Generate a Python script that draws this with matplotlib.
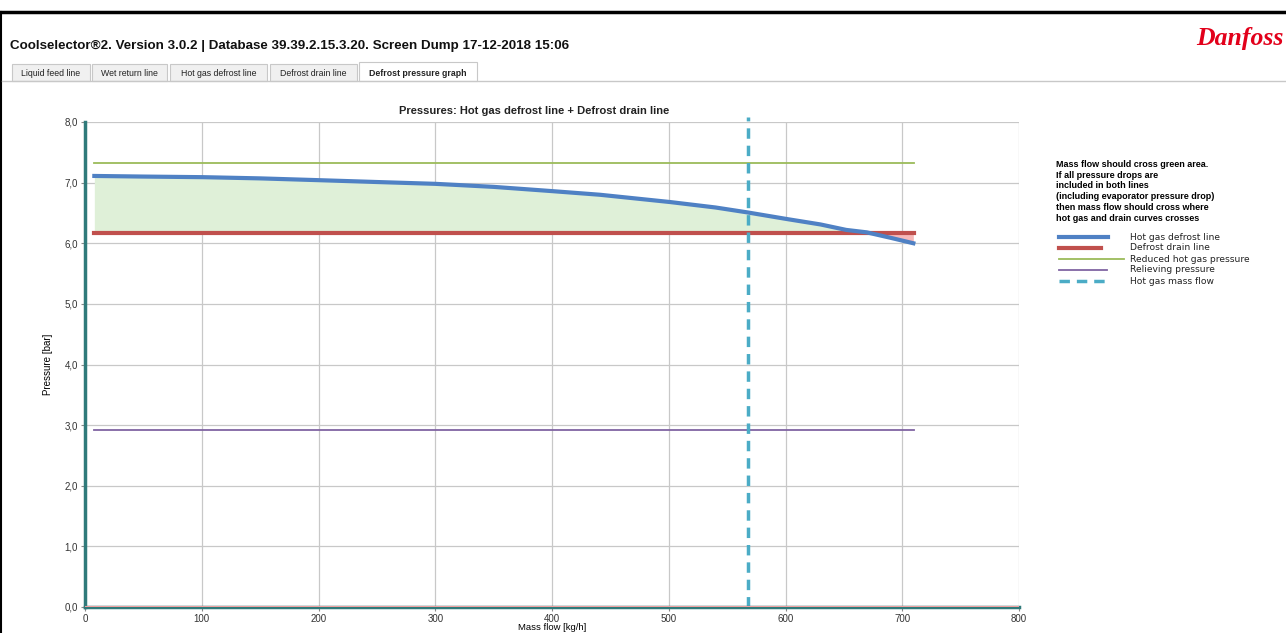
import matplotlib.pyplot as plt
import numpy as np
from matplotlib.patches import Rectangle
from matplotlib.lines import Line2D

plt.rcParams['font.family'] = ['Liberation Sans', 'DejaVu Sans']

# data
mass_flow = [8, 50, 101, 150, 201, 250, 300, 350, 400, 441, 501, 540, 567, 601, 630, 652, 669.5, 690, 709.5]
hot_gas = [7.11, 7.10, 7.09, 7.07, 7.04, 7.01, 6.98, 6.93, 6.86, 6.80, 6.68, 6.59, 6.51, 6.40, 6.31, 6.22, 6.18, 6.09, 6.00]
drain_pressure = 6.17
reduced_pressure = 7.33
relieving_pressure = 2.92
flow_range = [8, 710]
mass_flow_point = 568

legend_labels = ['Hot gas defrost line', 'Defrost drain line', 'Reduced hot gas pressure',
                 'Relieving pressure', 'Hot gas mass flow']
tabs = ['Liquid feed line', 'Wet return line', 'Hot gas defrost line', 'Defrost drain line',
        'Defrost pressure graph']
tab_edges = [(12, 90), (92, 167), (170, 267), (270, 357), (359, 477)]

c_blue = '#4f81c4'
c_red = '#c0504d'
c_green = '#9bbb59'
c_purple = '#8064a2'
c_teal = '#4bacc6'

W, H = 1286, 633
fig = plt.figure(figsize=(W / 100, H / 100), dpi=100)


def fx(px):
    return px / W


def fy(py):
    return 1 - py / H


# screenshot frame
fig.add_artist(Line2D([0, 1], [fy(12), fy(12)], color='black', lw=2.5))
fig.add_artist(Line2D([fx(1), fx(1)], [fy(12), 0], color='black', lw=1.5))
fig.text(fx(10), fy(46), 'Coolselector®2. Version 3.0.2 | Database 39.39.2.15.3.20. Screen Dump 17-12-2018 15:06',
         fontsize=9.6, fontweight='bold', va='center', ha='left', color='#111111')
fig.text(fx(1196), fy(38), 'Danfoss', fontsize=18.5, color='#e2001a', style='italic', fontweight='bold',
         family='Liberation Serif', va='center', ha='left')

# tabs
fig.add_artist(Line2D([fx(2), 1], [fy(81), fy(81)], color='#c8c8c8', lw=1))
for name, (x0, x1) in zip(tabs, tab_edges):
    sel = name == 'Defrost pressure graph'
    top = 62 if sel else 64
    fig.add_artist(Rectangle((fx(x0), fy(81)), fx(x1 - x0), (81 - top) / H,
                             facecolor='white' if sel else '#f0f0f0', edgecolor='#c8c8c8', lw=0.8))
    fig.text(fx((x0 + x1) / 2), fy(73), name, fontsize=6.3, ha='center', va='center',
             fontweight='bold' if sel else 'normal', color='#222222')

ax = fig.add_axes([fx(85), fy(607), fx(1019 - 85), (607 - 122) / H])

x = np.array(mass_flow)
y = np.array(hot_gas)
ax.fill_between(x, y, drain_pressure, where=y >= drain_pressure - 0.001, interpolate=True,
                color='#dff0d8', lw=0)
ax.fill_between(x, y, drain_pressure, where=y <= drain_pressure + 0.001, interpolate=True,
                color='#f7b8b8', lw=0)

ax.plot(flow_range, [reduced_pressure] * 2, color=c_green, lw=1.3, label=legend_labels[2])
ax.plot(flow_range, [relieving_pressure] * 2, color=c_purple, lw=1.3, label=legend_labels[3])
ax.plot(flow_range, [drain_pressure] * 2, color=c_red, lw=3, label=legend_labels[1])
ax.plot(x, y, color=c_blue, lw=3, label=legend_labels[0])
ax.plot([mass_flow_point] * 2, [0, 8.08], color=c_teal, lw=2.5, ls=(0, (3, 2)),
        label=legend_labels[4], clip_on=False)
ax.axhline(0, color='#f0a0a0', lw=1.5, zorder=3)

ax.set_xlim(0, 800)
ax.set_ylim(0, 8)
ax.set_xticks(range(0, 801, 100))
ax.set_yticks(range(0, 9))
ax.set_yticklabels(['%d,0' % v for v in range(0, 9)])
ax.grid(True, color='#c8c8c8', lw=0.9)
ax.set_axisbelow(True)
ax.tick_params(labelsize=7, length=3, pad=2, color='#888888', labelcolor='#333333')
for s in ['top', 'right']:
    ax.spines[s].set_visible(False)
ax.spines['left'].set_color('#2f7a7a')
ax.spines['left'].set_linewidth(2.5)
ax.spines['bottom'].set_color('#2f7a7a')
ax.spines['bottom'].set_linewidth(2.5)
ax.set_xlabel('Mass flow [kg/h]', fontsize=6.8, labelpad=-1)
ax.set_ylabel('Pressure [bar]', fontsize=7, labelpad=8)
fig.text(fx(534), fy(111), 'Pressures: Hot gas defrost line + Defrost drain line', fontsize=8,
         fontweight='bold', ha='center', va='center', color='#222222')

# legend text block
note = ('Mass flow should cross green area.\nIf all pressure drops are\nincluded in both lines\n'
        '(including evaporator pressure drop)\nthen mass flow should cross where\n'
        'hot gas and drain curves crosses')
fig.text(fx(1056), fy(160), note, fontsize=6.5, fontweight='bold', ha='left', va='top', linespacing=1.25)
styles = [(c_blue, 3, '-'), (c_red, 3, '-'), (c_green, 1.3, '-'), (c_purple, 1.3, '-'), (c_teal, 2.5, (0, (3, 2)))]
rows = [237, 248, 259, 270, 281]
ends = [1108, 1101, 1124, 1107, 1108]
for lab, (c, lw, ls), r, e in zip(legend_labels, styles, rows, ends):
    fig.add_artist(Line2D([fx(1059), fx(e)], [fy(r), fy(r)], color=c, lw=lw, ls=ls))
    fig.text(fx(1130), fy(r), lab, fontsize=6.6, ha='left', va='center', color='#222222',
             family='DejaVu Sans')

fig.savefig('out.png', dpi=100)
